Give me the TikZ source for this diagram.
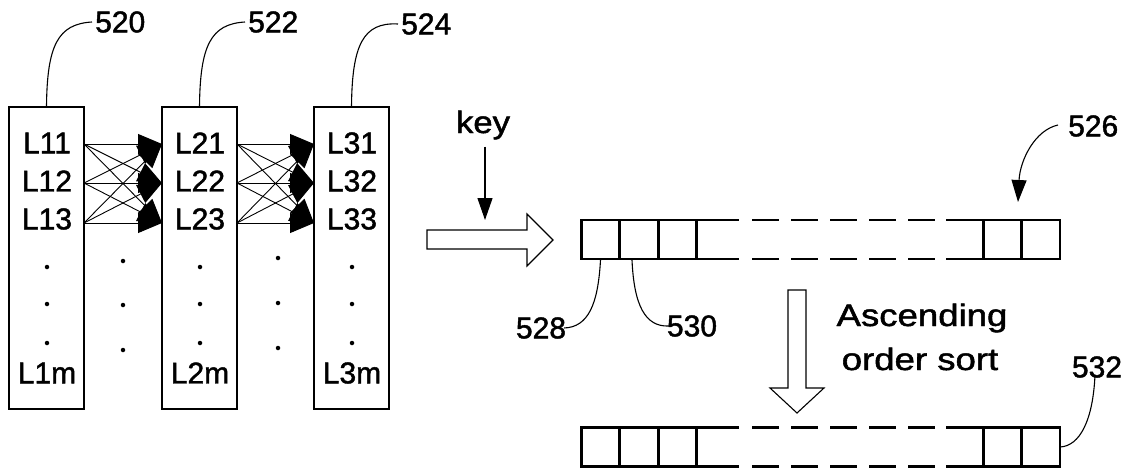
\documentclass[tikz,border=0pt]{standalone}
\usepackage{graphicx}
\usepackage{fontspec}
\setmainfont{Liberation Sans}[FakeBold=1.5]
\usetikzlibrary{arrows.meta}
\begin{document}
\begin{tikzpicture}[x=1pt,y=-1pt,
  lbl/.style={font=\fontsize{30}{36}\selectfont, inner sep=0pt},
  wlbl/.style={font=\fontsize{31}{36}\selectfont, inner sep=0pt},
  colbox/.style={draw, line width=1.3pt, minimum width=75pt, minimum height=302pt, inner sep=0pt, outer sep=0pt},
  fan/.style={line width=0.9pt, -{Triangle[length=24pt,width=20pt]}},
  lead/.style={line width=1.1pt},
  cell/.style={draw, line width=2.6pt, minimum width=38pt, minimum height=39pt, inner sep=0pt, outer sep=0pt},
  arrline/.style={line width=2.6pt},
  solidext/.style={line width=2.6pt, line cap=rect},
  hollow/.style={draw, line width=1.1pt, fill=white, line join=miter},
  dotm/.style={fill, circle, inner sep=0pt, minimum size=4.5pt}
]
\useasboundingbox (0,0) rectangle (1137,471);

% ---- three columns ----
\node[colbox] (c1) at (46.5,258) {};
\node[colbox] (c2) at (199.5,258) {};
\node[colbox] (c3) at (351.5,258) {};

\foreach \c/\x in {1/47,2/200,3/352}{
  \node[lbl] (l\c1) at (\x,143) {L\c1};
  \node[lbl] (l\c2) at (\x,181) {L\c2};
  \node[lbl] (l\c3) at (\x,219) {L\c3};
  \node[dotm] (d\c a) at (\x,267) {};
  \node[dotm] (d\c b) at (\x,304) {};
  \node[dotm] (d\c c) at (\x,343) {};
  \node[lbl] (l\c m) at (\x,373) {L\c m};
}
% dots between columns
\node[dotm] (e1a) at (123,261) {};
\node[dotm] (e1b) at (123,305) {};
\node[dotm] (e1c) at (123,350) {};
\node[dotm] (e2a) at (278,258) {};
\node[dotm] (e2b) at (278,303) {};
\node[dotm] (e2c) at (278,348) {};

% fan connectors
\foreach \i/\y in {1/144,2/183,3/223}{
  \coordinate (o1\i) at (c1.east |- 0,\y);
  \coordinate (i2\i) at (c2.west |- 0,\y);
  \coordinate (o2\i) at (c2.east |- 0,\y);
  \coordinate (i3\i) at (c3.west |- 0,\y);
}
\foreach \i in {1,2,3}{
  \foreach \j in {1,2,3}{
    \draw[fan] (o1\i) -- (i2\j);
    \draw[fan] (o2\i) -- (i3\j);
  }
}

% reference labels of columns
\node[lbl,anchor=west] (n520) at (95,22) {520};
\node[lbl,anchor=west] (n522) at (248,22) {522};
\node[lbl,anchor=west] (n524) at (401,24) {524};
\draw[lead] (c1.north) .. controls (47,45) and (58,24) .. ([xshift=-3pt]n520.west);
\draw[lead] (c2.north) .. controls (200,45) and (211,24) .. ([xshift=-3pt]n522.west);
\draw[lead] (c3.north) .. controls (352,45) and (363,22) .. ([xshift=-3pt]n524.west);

% ---- key and hollow arrow ----
\node[wlbl,anchor=base] (key) at (483,133) {\scalebox{1.12}[1]{key}};
\coordinate (keytip) at (485,220);
\draw[line width=1.1pt,-{Triangle[length=22pt,width=15pt]}] (keytip |- key.south) ++(0,7) -- (keytip);
\draw[hollow] (427,230) -- (527,230) -- (527,214) -- (553,240) -- (527,266) -- (527,249) -- (427,249) -- cycle;

% ---- array 1 ----
\foreach \n/\x in {1/600.5,2/639,3/677.5,4/1002.5,5/1041}{
  \node[cell] (a\n) at (\x,239.5) {};
}
\draw[solidext] (a3.north east) -- (738,220) (a3.south east) -- (738,259);
\draw[solidext] (947,220) -- (a4.north west) (947,259) -- (a4.south west);
\draw[arrline, dash pattern=on 27pt off 12pt] (752,220) -- (935,220) (752,259) -- (935,259);

% ---- array 2 ----
\foreach \n/\x in {1/600.5,2/639,3/677.5,4/1002.5,5/1041}{
  \node[cell] (b\n) at (\x,447) {};
}
\draw[solidext] (b3.north east) -- (738,427.5) (b3.south east) -- (738,466.5);
\draw[solidext] (947,427.5) -- (b4.north west) (947,466.5) -- (b4.south west);
\draw[arrline, dash pattern=on 27pt off 12pt] (752,427.5) -- (935,427.5) (752,466.5) -- (935,466.5);

% ---- 526 ----
\node[lbl,anchor=west] (n526) at (1068,126) {526};
\draw[lead,-{Triangle[length=22pt,width=15pt]}] ([xshift=-10pt,yshift=1pt]n526.west) .. controls (1035,130) and (1020,160) .. (1018,202);

% ---- 528 / 530 ----
\node[lbl] (n528) at (541,328) {528};
\node[lbl] (n530) at (692,326) {530};
\draw[lead] (a1.south) ++(0,1) .. controls (598,305) and (588,327) .. ([xshift=-2pt]n528.east);
\draw[lead] (a2.south) ++(-7,1) .. controls (634,305) and (645,327) .. ([xshift=2pt]n530.west);

% ---- sort arrow ----
\draw[hollow] (788,290) -- (806,290) -- (806,388) -- (824,388) -- (797,413) -- (770,388) -- (788,388) -- cycle;
\node[wlbl,anchor=base] (asc) at (922,326) {\scalebox{1.18}[1]{Ascending}};
\node[wlbl,anchor=base] (ord) at (920,370) {\scalebox{1.18}[1]{order sort}};

% ---- 532 ----
\node[lbl] (n532) at (1097,367) {532};
\draw[lead] ([xshift=-2pt,yshift=3pt]n532.south) .. controls (1093,420) and (1080,446) .. (b5.east);
\end{tikzpicture}
\end{document}
